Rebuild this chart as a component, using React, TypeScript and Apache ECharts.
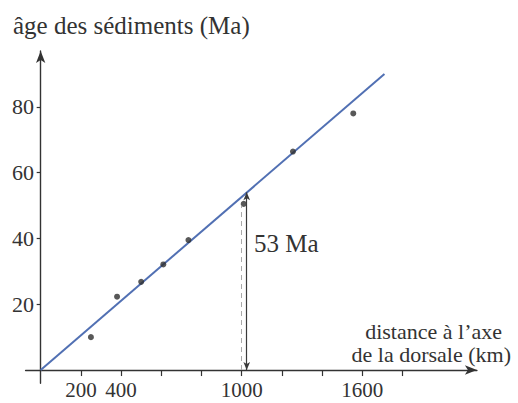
import React, { useEffect, useRef } from "react";
import * as echarts from "echarts";

// distance à l'axe de la dorsale (km) vs âge des sédiments (Ma)
const distances = [250, 380, 500, 610, 735, 1010, 1255, 1555];
const ages = [10, 22.3, 26.8, 32.1, 39.5, 50.5, 66.4, 78];

// regression line endpoints
const fitDist = [0, 1710];
const fitAge = [0, 90];

// annotation (53 Ma at ~1000 km)
const arrowDist = 1025;
const arrowAge = 54;
const dashDist = 1000;
const dashAge = 50;
const annotationText = "53 Ma";

const xTickValues = [200, 400, 600, 800, 1000, 1200, 1400, 1600, 1800];
const xLabelValues = [200, 400, 1000, 1600];
const yTickValues = [20, 40, 60, 80];

const yTitle = "âge des sédiments (Ma)";
const xTitle1 = "distance à l’axe";
const xTitle2 = "de la dorsale (km)";

const FONT = "'Liberation Serif', 'Times New Roman', serif";
const INK = "#333333";

export default function App() {
  const ref = useRef<HTMLDivElement>(null);
  useEffect(() => {
    if (!ref.current) return;
    const chart = echarts.init(ref.current, null, { renderer: "svg" });
    const axisCommon = {
      type: "value" as const,
      splitLine: { show: false },
      axisLine: {
        show: true,
        onZero: true,
        symbol: ["none", "arrow"],
        symbolSize: [7, 12],
        lineStyle: { color: INK, width: 1.4 },
      },
    };
    chart.setOption({
      animation: false,
      backgroundColor: "#ffffff",
      grid: {
        left: 25.6,
        right: 41.1,
        top: 50.9,
        bottom: 19.8,
        containLabel: false,
        outerBoundsMode: "none",
      },
      xAxis: {
        ...axisCommon,
        min: -75,
        max: 2170,
        axisTick: {
          show: true,
          customValues: xTickValues,
          length: 6,
          lineStyle: { color: INK, width: 1.2 },
        },
        axisLabel: {
          customValues: xLabelValues,
          formatter: (v: number) => String(v),
          fontFamily: FONT,
          fontSize: 21,
          color: INK,
          margin: -4,
        },
      },
      yAxis: {
        ...axisCommon,
        min: -4,
        max: 97,
        axisTick: {
          show: true,
          customValues: yTickValues,
          length: 4,
          lineStyle: { color: INK, width: 1.2 },
        },
        axisLabel: {
          customValues: yTickValues,
          formatter: (v: number) => String(v),
          fontFamily: FONT,
          fontSize: 22,
          color: INK,
          margin: -8.4,
        },
      },
      series: [
        {
          type: "line",
          data: fitDist.map((d, i) => [d, fitAge[i]]),
          symbol: "none",
          lineStyle: { color: "#5170b3", width: 2 },
          silent: true,
          z: 2,
        },
        {
          type: "scatter",
          data: distances.map((d, i) => [d, ages[i]]),
          symbolSize: 6,
          itemStyle: { color: "#2e2e2e" },
          z: 3,
        },
        {
          type: "line",
          data: [],
          markLine: {
            silent: true,
            symbol: ["none", "none"],
            label: { show: false },
            lineStyle: { color: "#a9a9a9", type: [5, 4], width: 1 },
            data: [[{ coord: [dashDist, 0] }, { coord: [dashDist, dashAge] }]],
          },
        },
        {
          type: "line",
          data: [],
          markLine: {
            silent: true,
            symbol: ["arrow", "arrow"],
            symbolSize: [5, 8],
            label: { show: false },
            lineStyle: { color: "#3a3a3a", type: "solid", width: 1.2 },
            data: [[{ coord: [arrowDist, 0] }, { coord: [arrowDist, arrowAge] }]],
          },
        },
      ],
      graphic: [
        {
          type: "text",
          x: 13,
          y: 25,
          style: {
            text: yTitle,
            fontFamily: FONT,
            fontSize: 25,
            fill: INK,
            align: "left",
            verticalAlign: "middle",
          },
        },
        {
          type: "text",
          x: 502,
          y: 331,
          style: {
            text: xTitle1,
            fontFamily: FONT,
            fontSize: 22,
            fill: INK,
            align: "right",
            verticalAlign: "middle",
          },
        },
        {
          type: "text",
          x: 511,
          y: 354,
          style: {
            text: xTitle2,
            fontFamily: FONT,
            fontSize: 22,
            fill: INK,
            align: "right",
            verticalAlign: "middle",
          },
        },
        {
          type: "text",
          x: 254,
          y: 243.7,
          style: {
            text: annotationText,
            fontFamily: FONT,
            fontSize: 25,
            fill: INK,
            align: "left",
            verticalAlign: "middle",
          },
        },
      ],
    });
    return () => chart.dispose();
  }, []);
  return (
    <div
      ref={ref}
      style={{ position: "fixed", left: 0, top: 0, width: 518, height: 403 }}
    />
  );
}
